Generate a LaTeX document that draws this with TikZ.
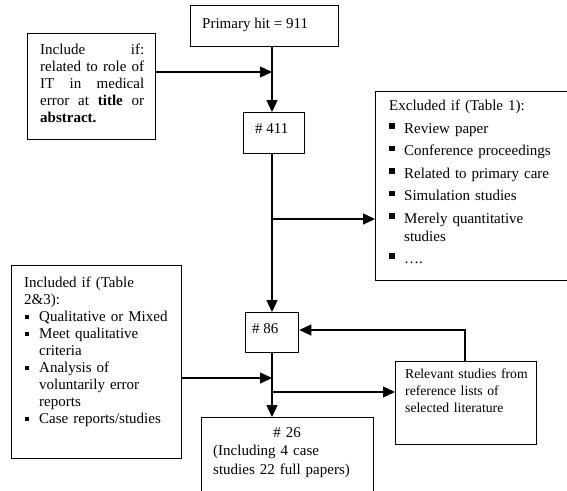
\documentclass[tikz,border=0pt]{standalone}
\usepackage{fontspec}
\setmainfont{Liberation Serif}
\usetikzlibrary{arrows.meta}
\newcommand\bigbul{\makebox[15pt][l]{\rule[4.5pt]{6pt}{5.5pt}}}
\newcommand\smallbul{\makebox[15pt][l]{\hspace*{1pt}\rule[2pt]{4pt}{4pt}}}
\begin{document}
\begin{tikzpicture}[x=1pt,y=-1pt,
  box/.style={draw, line width=1.3pt, inner sep=0pt, anchor=north west},
  txt/.style={inner sep=0pt, anchor=base west, align=left, font=\fontsize{15}{17}\selectfont},
  arr/.style={line width=1.3pt, -{Triangle[length=12pt,width=11pt]}}]
\useasboundingbox (0,0) rectangle (567,490);
\clip (0,0) rectangle (567,490);
% boxes
\node[box, minimum width=148pt, minimum height=41pt] (prim) at (190,5) {};
\node[box, minimum width=128pt, minimum height=106pt] (incl) at (27,33) {};
\node[box, minimum width=61pt, minimum height=41pt] (n411) at (243,112) {};
\node[box, minimum width=200pt, minimum height=189pt] (excl) at (375,91) {};
\node[box, minimum width=53pt, minimum height=40pt] (n86) at (245,312) {};
\node[box, minimum width=170pt, minimum height=193pt] (incd) at (11,265) {};
\node[box, minimum width=141pt, minimum height=83pt] (rel) at (395,361) {};
\node[box, minimum width=172pt, minimum height=100pt] (n26) at (201,417) {};
% texts
\node[txt] (tprim) at (202,28) {Primary hit = 911};
\node[txt, text width=104pt, align=justify] (tincl) at (40,54)
  {Include if:\linebreak related to role of\linebreak IT in medical\linebreak error at \textbf{title} or\linebreak \textbf{abstract.}};
\node[txt] (t411) at (255,133) {\# 411};
\node[txt, text width=175pt, font=\fontsize{15}{18}\selectfont] (texcl) at (389,110)
  {Excluded if (Table 1):\\[5pt]
   \bigbul Review paper\\[4.5pt]
   \bigbul Conference proceedings\\[4.5pt]
   \bigbul Related to primary care\\[4.5pt]
   \bigbul Simulation studies\\[4.5pt]
   \bigbul Merely quantitative\\
   \hspace*{15pt}studies\\[4pt]
   \bigbul \dots.};
\node[txt] (t86) at (252,333) {\# 86};
\node[txt, text width=165pt] (tincd) at (24,287)
  {Included if (Table\\
   2\&3):\\
   \smallbul Qualitative or Mixed\\
   \smallbul Meet qualitative\\
   \hspace*{15pt}criteria\\
   \smallbul Analysis of\\
   \hspace*{15pt}voluntarily error\\
   \hspace*{15pt}reports\\
   \smallbul Case reports/studies};
\node[txt, text width=160pt, font=\fontsize{13.7}{17}\selectfont] (trel) at (405,378)
  {Relevant studies from\\ reference lists of\\ selected literature};
\node[txt, text width=160pt, font=\fontsize{15}{18.5}\selectfont] (t26) at (213,437)
  {\makebox[148pt][c]{\# 26}\\ (Including 4 case\\ studies 22 full papers)};
% connectors
\coordinate (c) at (272,0);
\coordinate (j1) at (272,72);
\coordinate (j2) at (272,219);
\coordinate (j3) at (465,330);
\coordinate (j4) at (272,378);
\coordinate (j5) at (272,392);
\draw[arr] (prim.south -| c) -- (n411.north -| c);
\draw[arr] (incl.east |- j1) -- (j1);
\draw[arr] (n411.south -| c) -- (n86.north -| c);
\draw[arr] (j2) -- (excl.west |- j2);
\draw[arr] (rel.north -| j3) -- (j3) -- (n86.east |- j3);
\draw[arr] (n86.south -| c) -- (n26.north -| c);
\draw[arr] (incd.east |- j4) -- (j4);
\draw[arr] (j5) -- (rel.west |- j5);
\end{tikzpicture}
\end{document}
